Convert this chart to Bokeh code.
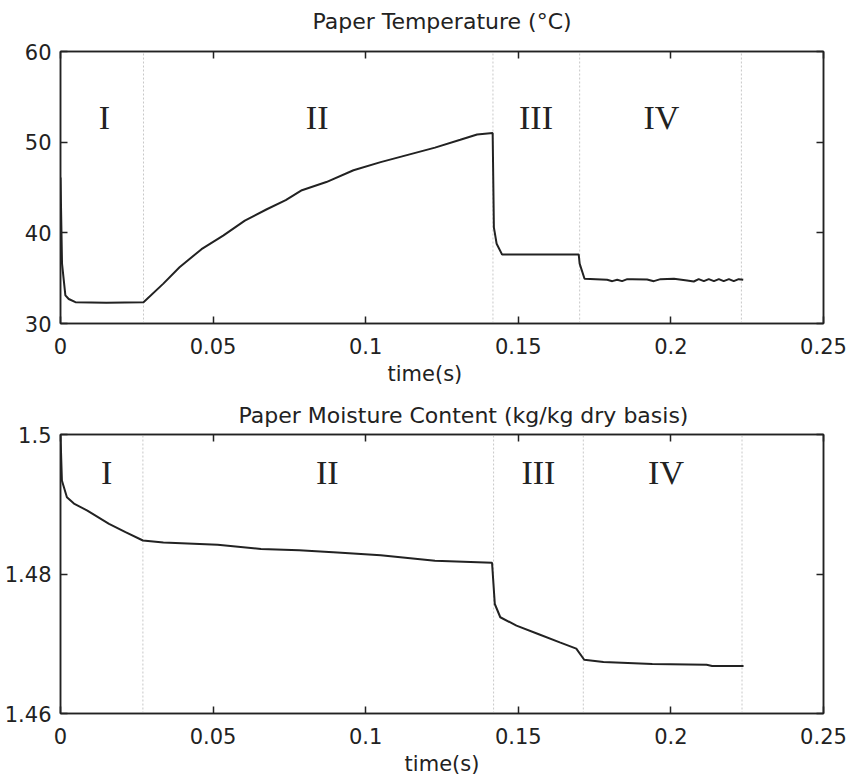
from bokeh.plotting import figure
from bokeh.layouts import column
from bokeh.models import LinearAxis, Range1d, FixedTicker, Title, ColumnDataSource
from bokeh.embed import file_html
from bokeh.resources import INLINE
from bokeh.core.properties import value

# ---------------- data ----------------
x_ticks = [0, 0.05, 0.1, 0.15, 0.2, 0.25]
x_tick_labels = ["0", "0.05", "0.1", "0.15", "0.2", "0.25"]

temp_ticks = [30, 40, 50, 60]
temp_tick_labels = ["30", "40", "50", "60"]
moist_ticks = [1.46, 1.48, 1.50]
moist_tick_labels = ["1.46", "1.48", "1.5"]

# Paper temperature (deg C) vs time (s)
t_temp = [0.0, 0.0005, 0.0016, 0.0027, 0.0049, 0.0150, 0.0272, 0.0337, 0.0390,
          0.0462, 0.0533, 0.0604, 0.0676, 0.0738, 0.0791, 0.0871, 0.0960,
          0.1049, 0.1138, 0.1227, 0.1310, 0.1365, 0.1416, 0.1420, 0.1429,
          0.1447, 0.1698, 0.1701, 0.1717, 0.1791, 0.1808, 0.1824, 0.1840,
          0.1857, 0.1873, 0.1922, 0.1944, 0.1966, 0.2010, 0.2053, 0.2075,
          0.2091, 0.2108, 0.2124, 0.2141, 0.2157, 0.2173, 0.2190, 0.2206,
          0.2222, 0.2237]
temp = [46.1, 36.6, 33.1, 32.7, 32.35, 32.3, 32.35, 34.4, 36.2,
        38.2, 39.7, 41.35, 42.6, 43.6, 44.7, 45.6, 46.9,
        47.8, 48.6, 49.4, 50.26, 50.85, 51.0, 40.6, 38.8,
        37.6, 37.6, 36.6, 34.93, 34.82, 34.67, 34.82, 34.67,
        34.89, 34.89, 34.85, 34.67, 34.89, 34.93, 34.74, 34.63,
        34.89, 34.67, 34.89, 34.67, 34.89, 34.67, 34.89, 34.67,
        34.89, 34.82]

# Paper moisture content (kg/kg dry basis) vs time (s)
t_moist = [0.0, 0.00046, 0.0021, 0.0044, 0.0088, 0.0159, 0.0213, 0.0270,
           0.0337, 0.0515, 0.0657, 0.0782, 0.0907, 0.1049, 0.1227, 0.1414,
           0.1423, 0.1441, 0.1494, 0.1565, 0.1636, 0.1690, 0.1716, 0.1779,
           0.1939, 0.2117, 0.2135, 0.2238]
moist = [1.4999, 1.4934, 1.4910, 1.4901, 1.4891, 1.4872, 1.4860, 1.4848,
         1.4845, 1.4842, 1.4836, 1.4834, 1.4831, 1.4827, 1.4819, 1.4816,
         1.4757, 1.4738, 1.4726, 1.4714, 1.4702, 1.4693, 1.4677, 1.4674,
         1.4671, 1.4670, 1.4668, 1.4668]

# phase boundaries (s) and phase labels
phase_bounds_temp = [0.0272, 0.1417, 0.1701, 0.2231]
phase_bounds_moist = [0.0270, 0.1419, 0.1713, 0.2233]
phase_names = ["I", "II", "III", "IV"]
phase_x_temp = [0.0144, 0.0841, 0.1558, 0.1969]
phase_y_temp = [52.72, 52.72, 52.72, 52.72]
phase_x_moist = [0.0151, 0.0874, 0.1566, 0.1984]
phase_y_moist = [1.4945, 1.4945, 1.4945, 1.4945]

FONT = "DejaVu Sans"
INK = "#222222"


def style_axis(ax, ticks, labels, show_labels):
    ax.ticker = FixedTicker(ticks=ticks)
    ax.major_tick_in = 7
    ax.major_tick_out = 0
    ax.minor_tick_in = 0
    ax.minor_tick_out = 0
    ax.axis_line_color = INK
    ax.axis_line_width = 1.5
    ax.major_tick_line_color = INK
    ax.major_tick_line_width = 1.5
    ax.major_label_text_font = FONT
    if show_labels:
        ax.major_label_overrides = {t: l for t, l in zip(ticks, labels)}
        ax.major_label_text_font_size = "21px"
        ax.major_label_text_color = INK
    else:
        ax.major_label_overrides = {t: "" for t in ticks}
        ax.major_label_text_font_size = "0px"
        ax.major_label_text_color = None
        ax.major_label_standoff = 0


def make_panel(top_b, frame_h, bot_b, y0, y1, yt, ytl,
               tx, ty, bounds, px, py):
    p = figure(frame_width=763, frame_height=frame_h, output_backend="svg",
               toolbar_location=None, x_range=Range1d(0, 0.25),
               y_range=Range1d(y0, y1),
               min_border_left=60, min_border_right=26,
               min_border_top=top_b, min_border_bottom=bot_b)
    p.xgrid.visible = False
    p.ygrid.visible = False
    p.background_fill_color = "white"
    p.border_fill_color = "white"
    p.outline_line_color = INK
    p.outline_line_width = 1.5

    p.add_layout(LinearAxis(), "above")
    p.add_layout(LinearAxis(), "right")
    style_axis(p.below[0], x_ticks, x_tick_labels, True)
    style_axis(p.left[0], yt, ytl, True)
    style_axis(p.above[0], x_ticks, x_tick_labels, False)
    style_axis(p.right[0], yt, ytl, False)
    p.below[0].major_label_standoff = 14
    p.left[0].major_label_standoff = 9

    # phase boundaries
    src_b = ColumnDataSource(dict(x=bounds, y0=[y0] * len(bounds), y1=[y1] * len(bounds)))
    p.segment(x0="x", y0="y0", x1="x", y1="y1", source=src_b,
              line_color="#c8c8c8", line_width=1, line_dash="2 2")

    p.line(tx, ty, line_color=INK, line_width=2)

    p.text(x=px, y=py, text=phase_names, text_font=value("Liberation Serif"),
           text_font_size="34px", text_align="center",
           text_baseline="middle", text_color=INK)
    return p


def label_style(ax, size, standoff):
    ax.axis_label_text_font = FONT
    ax.axis_label_text_font_size = size
    ax.axis_label_text_font_style = "normal"
    ax.axis_label_text_color = INK
    ax.axis_label_standoff = standoff


# ---- top panel: paper temperature ----
p1 = make_panel(51, 272, 70, 30, 60, temp_ticks, temp_tick_labels,
                t_temp, temp, phase_bounds_temp, phase_x_temp, phase_y_temp)
# the chart title sits on the (tick-only) top axis
p1.above[0].axis_label = "Paper Temperature (°C)"
label_style(p1.above[0], "22px", 18)
p1.add_layout(Title(text="time(s)", align="left", offset=327, standoff=7,
                    text_font=FONT, text_font_size="21px",
                    text_font_style="normal", text_color=INK), "below")

# ---- bottom panel: paper moisture content ----
p2 = make_panel(41, 279, 68, 1.46, 1.50, moist_ticks, moist_tick_labels,
                t_moist, moist, phase_bounds_moist, phase_x_moist, phase_y_moist)
p2.title.text = "Paper Moisture Content (kg/kg dry basis)"
p2.title.text_font = FONT
p2.title.text_font_size = "22px"
p2.title.text_font_style = "normal"
p2.title.text_color = INK
p2.title.align = "left"
p2.title.offset = 178
p2.title.standoff = 14
p2.below[0].axis_label = "time(s)"
label_style(p2.below[0], "21px", 5)

layout = column(p1, p2)
open("out.html", "w").write(file_html(layout, INLINE))
